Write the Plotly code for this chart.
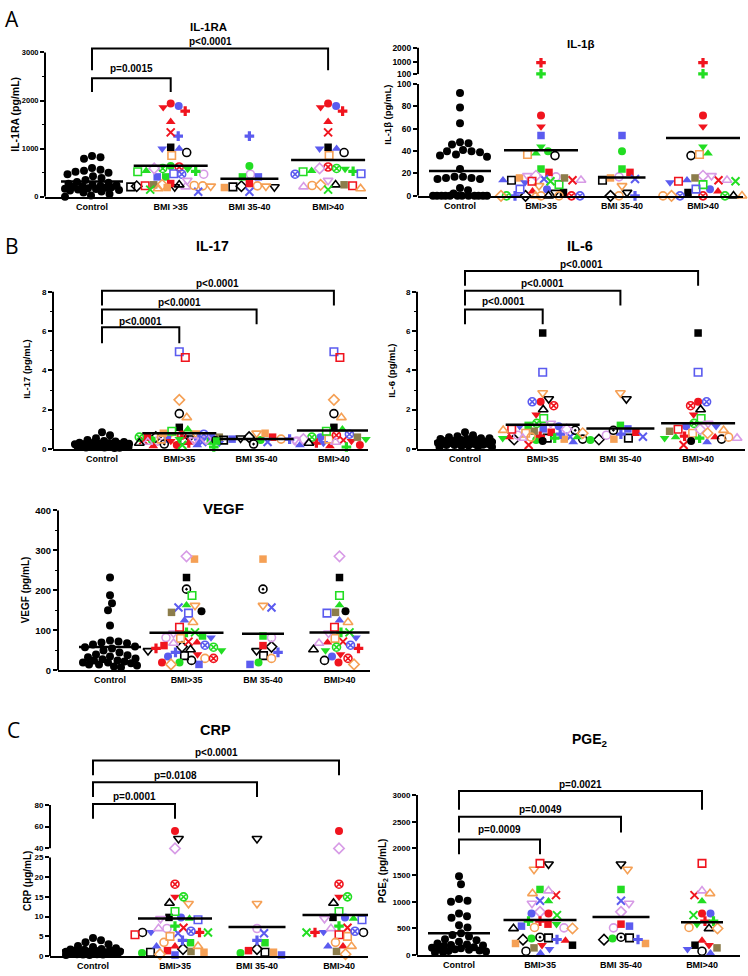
import math
import plotly.graph_objects as go

W, H = 748, 976
FONT = "Liberation Sans"

RED = "#f0141e"; BLUE = "#5b5bef"; GREEN = "#22dd22"; ORANGE = "#f5a055"
VIOLET = "#d79be6"; BLACK = "#000000"; OLIVE = "#8c7d4b"

# ---------------- patient marker styles (symbol, colour) ----------------
STYLES = {
    'ctrl': ('circle', BLACK),
    'ci_rd': ('circle', RED), 'ci_bl': ('circle', BLUE), 'ci_gr': ('circle', GREEN), 'ci_k': ('circle', BLACK),
    'td_rd': ('triangle-down', RED), 'td_bl': ('triangle-down', BLUE), 'td_gr': ('triangle-down', GREEN),
    'tu_rd': ('triangle-up', RED), 'tu_bl': ('triangle-up', BLUE), 'tu_gr': ('triangle-up', GREEN),
    'cr_rd': ('cross', RED), 'cr_gr': ('cross', GREEN), 'cr_bl': ('cross', BLUE),
    'x_rd': ('x-thin-open', RED), 'x_bl': ('x-thin-open', BLUE), 'x_gr': ('x-thin-open', GREEN),
    'sq_k': ('square', BLACK), 'sq_gr': ('square', GREEN), 'sq_rd': ('square', RED),
    'sq_bl': ('square', BLUE), 'sq_or': ('square', ORANGE), 'sq_ol': ('square', OLIVE),
    'sq_open_k': ('square-open', BLACK), 'sq_open_or': ('square-open', ORANGE), 'sq_open_gr': ('square-open', GREEN),
    'sq_open_bl': ('square-open', BLUE), 'sq_open_rd': ('square-open', RED),
    'ci_open_or': ('circle-open', ORANGE), 'ci_open_vi': ('circle-open', VIOLET), 'ci_open_k': ('circle-open', BLACK),
    'td_open_k': ('triangle-down-open', BLACK), 'td_open_or': ('triangle-down-open', ORANGE),
    'td_open_vi': ('triangle-down-open', VIOLET),
    'tu_open_vi': ('triangle-up-open', VIOLET), 'tu_open_k': ('triangle-up-open', BLACK),
    'tu_open_or': ('triangle-up-open', ORANGE),
    'di_open_k': ('diamond-open', BLACK), 'di_open_vi': ('diamond-open', VIOLET), 'di_open_or': ('diamond-open', ORANGE),
    'cx_rd': ('circle-x-open', RED), 'cx_gr': ('circle-x-open', GREEN), 'cx_bl': ('circle-x-open', BLUE),
    'half_k': ('circle-open-dot', BLACK),
}

# patients of the BMI 35-40 and BMI>40 subgroups (BMI>35 = both)
PAT_3540 = ['sq_open_k', 'ci_open_or', 'td_open_k', 'di_open_k', 'ci_open_vi', 'sq_gr', 'ci_gr', 'sq_rd',
            'x_bl', 'sq_bl', 'td_open_or', 'sq_or', 'cr_bl', 'half_k', 'td_open_vi', 'di_open_vi']
PAT_40 = ['ci_rd', 'ci_bl', 'td_rd', 'cr_rd', 'tu_rd', 'x_rd', 'sq_k', 'tu_bl', 'td_bl', 'ci_open_k',
          'sq_open_or', 'cr_gr', 'cx_rd', 'cx_gr', 'di_open_vi', 'td_gr', 'tu_gr', 'sq_open_gr', 'sq_open_bl',
          'cx_bl', 'td_open_vi', 'tu_open_vi', 'tu_open_k', 'sq_open_rd', 'di_open_or', 'sq_ol', 'x_gr',
          'tu_open_or', 'ci_k', 'ci_open_or']

# ---------------- values ----------------
CTRL_IL1RA = [850, 820, 790, 600, 560, 540, 520, 500, 470, 430, 390, 350, 310, 290, 270, 250, 240, 230, 220,
              210, 200, 190, 180, 170, 160, 150, 140, 130, 110, 90, 60, 30, 0]
IL1RA_3540 = [207, 228, 207, 220, 470, 414, 640, 276, 104, 414, 220, 193, 1262, None, None, None]
IL1RA_40 = [1940, 1890, 1860, 1780, 1560, 1340, 1030, 1000, 1000, 920, 860, 530, 620, 590, 590, 580, 540, 520,
            480, 470, 340, 210, 250, 230, 250, 250, 150, 170, None, 235]

CTRL_IL1B = [92, 79, 65, 47, 46, 48, 41, 40, 40, 39, 37, 36, 35, 24, 17, 16, 16, 17, 15, 15, 7, 5, 2,
             0, 0, 0, 0, 0, 0, 0, 0, 0, 0, 0, 0]
IL1B_3540 = [14, 0, 3, 0, 17, 24, 40, 21, 15, 54, 9, 16, 0, None, None, None]
IL1B_40 = [72, 6, 62, 920, 4, 14, 3, 14, 12, 36, 37, 130, 0, 0, 18, 44, 38, 10, 6, 0, 18, 14, 0, 13, 0, 16,
           13, 0, None, 0]

CTRL_IL17 = [0.85, 0.7, 0.55, 0.45, 0.4, 0.38, 0.35, 0.32, 0.3, 0.3, 0.28, 0.27, 0.25, 0.25, 0.24, 0.22, 0.2,
             0.2, 0.2, 0.18, 0.18, 0.16, 0.15, 0.15, 0.14, 0.12, 0.12, 0.1, 0.1, 0.08, 0.08, 0.06, 0.05]
IL17_3540 = [0.45, 0.5, 0.55, 0.6, 0.4, 0.4, 0.45, 0.6, 0.35, 0.5, 0.8, 0.8, 0.5, 0.25, None, None]
IL17_40 = [0.2, 0.6, 0.4, 0.3, 0.15, 0.45, 1.1, 0.2, 0.3, 1.8, 0.5, 0.1, 0.7, 0.6, 0.5, 0.5, 1.0, 0.9, 4.95,
           0.75, 0.45, 0.35, 0.3, 4.65, 2.5, 0.6, 0.2, 1.6, 0.45, None]

CTRL_IL6 = [0.85, 0.7, 0.65, 0.6, 0.55, 0.55, 0.5, 0.5, 0.45, 0.45, 0.4, 0.4, 0.38, 0.35, 0.35, 0.33, 0.3, 0.3,
            0.3, 0.28, 0.27, 0.25, 0.25, 0.22, 0.2, 0.2, 0.18, 0.15, 0.12, 0.1, 0.1]
IL6_3540 = [0.55, None, 2.55, 0.48, 0.7, 1.2, 0.45, 0.85, 0.62, 1.02, 2.85, 0.5, 0.75, 0.95, None, None]
IL6_40 = [2.4, 1.15, 1.75, 0.65, 0.6, 0.2, 5.9, 0.35, 1.15, 0.5, 0.8, 0.55, 2.2, 1.3, 1.0, 0.55, 0.6, 1.55, 3.9,
          2.4, 1.3, 0.55, 2.0, 1.0, 0.8, 0.9, None, 0.95, 0.4, 0.6]

CTRL_VEGF = [232, 188, 168, 150, 112, 75, 72, 70, 68, 65, 60, 58, 55, 50, 45, 40, 38, 35, 33, 30, 28, 25, 25,
             22, 20, 20, 18, 15, 15, 12, 10, 8]
VEGF_3540 = [37, 30, 49, 59, 82, 86, 20, 62, 157, 15, 162, 278, 45, 203, None, None]
VEGF_40 = [20, 35, 40, 55, 70, 72, 232, 125, 82, 25, 80, 95, 30, 58, 285, 50, 163, 187, 143, 63, 93, 68, 52,
           108, 15, 145, 95, 120, 148, None]

CTRL_CRP = [4.6, 4.0, 3.5, 3.0, 2.6, 2.3, 2.0, 1.8, 1.7, 1.6, 1.5, 1.4, 1.3, 1.2, 1.2, 1.1, 1.0, 1.0, 0.9, 0.9,
            0.8, 0.8, 0.7, 0.7, 0.6, 0.6, 0.5, 0.5, 0.4, 0.4, 0.3, 0.3]
CRP_3540 = [1.0, None, 49, 1.8, 7, 3.4, 0.8, 1.4, 5.8, 0.3, 13.3, 1.0, 4.0, None, None, None]
CRP_40 = [56, 9.8, 15, 6, 2.5, 7.2, 9.8, 2.5, 6.1, 6, 5, 7.6, 18.2, 15, 40, None, 9.5, 11.3, 9.2, 6.3, 9.5, 7,
          13.4, 5.4, 0.5, 1.2, 6, 2.5, None, 3.5]

CTRL_PGE2 = [1480, 1330, 1050, 1020, 1000, 780, 730, 700, 560, 520, 410, 380, 350, 300, 280, 250, 220, 200,
             190, 180, 170, 150, 140, 130, 120, 110, 100, 90, 80, 70, 60, 50]
PGE2_3540 = [325, None, 1706, 290, 512, 1231, 312, 581, 1019, 544, 1606, 219, 294, 337, 969, 812]
PGE2_40 = [781, 781, 187, 637, 275, 1125, 187, 35, 112, 75, None, 637, None, None, None, 581, 1012, None, None,
           None, None, 1206, 500, 1719, 500, 137, 750, 1156, None, 519]

CATS_A = ['Control', 'BMI >35', 'BMI 35-40', 'BMI>40']
CATS = ['Control', 'BMI>35', 'BMI 35-40', 'BMI>40']
CATS_V = ['Control', 'BMI>35', 'BM 35-40', 'BMI>40']

# ---------------- panel layout ----------------
PANELS = [
    dict(ctrl=CTRL_IL1RA, a=IL1RA_3540, b=IL1RA_40, cats=CATS_A, xl=45, xr=367, c0=92, dc=78.7, tf=7.5,
         segs=[dict(lo=0, ref=3000, hi=3300, pb=193, pref=47, ticks=[0, 1000, 2000, 3000],
                    minor=[500, 1500, 2500])],
         brackets=[(1, 2466, 2178, 2671, 'p=0.0015'), (3, 3082, 2630, 3226, 'p<0.0001')],
         title=('IL-1RA', 208, 21, 11.5), ytitle=('IL-1RA (pg/mL)', 15, 110, 10.5)),
    dict(ctrl=CTRL_IL1B, a=IL1B_3540, b=IL1B_40, cats=CATS, xl=418, xr=743, c0=460, dc=81, tf=8.5,
         segs=[dict(lo=0, ref=100, hi=100, pb=192, pref=79, ticks=[0, 20, 40, 60, 80, 100], minor=None),
               dict(lo=100, ref=2000, hi=2000, pb=69, pref=42, ticks=[100, 1000, 2000], minor=None)],
         brackets=[], title=('IL-1β', 580, 38, 11.5), ytitle=('IL-1β (pg/mL)', 388, 110, 9.5)),
    dict(ctrl=CTRL_IL17, a=IL17_3540, b=IL17_40, cats=CATS, xl=53, xr=368, c0=102, dc=77.3, tf=8,
         segs=[dict(lo=0, ref=8, hi=9, pb=448, pref=289, ticks=[0, 2, 4, 6, 8], minor=[1, 3, 5, 7])],
         brackets=[(1, 6.19, 5.38, 6.49, 'p<0.0001'), (2, 7.09, 6.34, 7.45, 'p<0.0001'),
                   (3, 8.05, 7.3, 8.4, 'p<0.0001')],
         title=('IL-17', 213, 243, 14), ytitle=('IL-17 (pg/mL)', 27, 367, 9.5)),
    dict(ctrl=CTRL_IL6, a=IL6_3540, b=IL6_40, cats=CATS, xl=417, xr=745, c0=465, dc=77.7, tf=8,
         segs=[dict(lo=0, ref=8, hi=10, pb=448, pref=289, ticks=[0, 2, 4, 6, 8], minor=[1, 3, 5, 7])],
         brackets=[(1, 7.09, 6.34, 7.5, 'p<0.0001'), (2, 8.05, 7.3, 8.4, 'p<0.0001'),
                   (3, 9.06, 8.3, 9.41, 'p<0.0001')],
         title=('IL-6', 580, 243, 14.5), ytitle=('IL-6 (pg/mL)', 392, 369, 9.5)),
    dict(ctrl=CTRL_VEGF, a=VEGF_3540, b=VEGF_40, cats=CATS_V, xl=58, xr=370, c0=110, dc=76.5, tf=9.5,
         segs=[dict(lo=0, ref=400, hi=400, pb=672, pref=510, ticks=[0, 100, 200, 300, 400],
                    minor=[50, 150, 250, 350])],
         brackets=[], title=('VEGF', 223, 508, 15), ytitle=('VEGF (pg/mL)', 25, 591, 10)),
    dict(ctrl=CTRL_CRP, a=CRP_3540, b=CRP_40, cats=CATS, xl=50, xr=368, c0=93, dc=82, tf=8,
         segs=[dict(lo=0, ref=25, hi=25, pb=961, pref=861, ticks=[0, 5, 10, 15, 20, 25], minor=None),
               dict(lo=40, ref=80, hi=130, pb=852, pref=808, ticks=[40, 60, 80], minor=None)],
         brackets=[(1, 80.9, 67.3, 87.3, 'p=0.0001'), (2, 100.9, 87.3, 107.3, 'p=0.0108'),
                   (3, 120.9, 107.3, 128.2, 'p<0.0001')],
         title=('CRP', 215, 732, 14.5), ytitle=('CRP (μg/mL)', 27, 885, 10)),
    dict(ctrl=CTRL_PGE2, a=PGE2_3540, b=PGE2_40, cats=CATS, xl=417, xr=740, c0=459, dc=81, tf=8,
         segs=[dict(lo=0, ref=3000, hi=3300, pb=960, pref=798, ticks=[0, 500, 1000, 1500, 2000, 2500, 3000],
                    minor=None)],
         brackets=[(1, 2167, 1889, 2352, 'p=0.0009'), (2, 2593, 2296, 2722, 'p=0.0049'),
                   (3, 3074, 2722, 3204, 'p=0.0021')],
         title=('PGE<sub>2</sub>', 590, 742, 14), ytitle=('PGE<sub>2</sub> (pg/mL)', 383, 875, 10)),
]

LETTERS = [('A', 12, 13), ('B', 12, 243), ('C', 14, 732)]

D = 8.3  # marker diameter in px for the swarm


def swarm(pys, d, wmax):
    order = sorted(range(len(pys)), key=lambda i: pys[i])
    cands = [0.0]
    step = 0.5
    k = 1
    while k * step <= wmax:
        cands += [k * step, -k * step]
        k += 1
    placed = []
    offs = [0.0] * len(pys)
    for i in order:
        y = pys[i]
        near = [(px, py) for px, py in placed if abs(py - y) < d]
        chosen, best, bestd = None, 0.0, -1.0
        for c in cands:
            md = min((math.hypot(c - px, y - py) for px, py in near), default=1e9)
            if md >= d:
                chosen = c
                break
            if md > bestd + 1e-9:
                bestd, best = md, c
        if chosen is None:
            chosen = best
        offs[i] = chosen
        placed.append((chosen, y))
    return offs


fig = go.Figure()
layout = dict(width=W, height=H, margin=dict(l=0, r=0, t=0, b=0), paper_bgcolor='white',
              plot_bgcolor='white', showlegend=False)
shapes, annotations = [], []
bold = dict(family=FONT, color='black', weight='bold')

yi = 0
for pi, P in enumerate(PANELS):
    xi = pi + 1
    xname = 'x' if xi == 1 else f'x{xi}'
    xkey = 'xaxis' if xi == 1 else f'xaxis{xi}'
    segs = P['segs']
    ynames = []
    for s in segs:
        yi += 1
        yname = 'y' if yi == 1 else f'y{yi}'
        ykey = 'yaxis' if yi == 1 else f'yaxis{yi}'
        s['k'] = (s['pb'] - s['pref']) / (s['ref'] - s['lo'])
        pt = s['pb'] - (s['hi'] - s['lo']) * s['k']
        ax = dict(domain=[1 - s['pb'] / H, 1 - pt / H], range=[s['lo'], s['hi']], anchor=xname,
                  tickmode='array', tickvals=s['ticks'], ticktext=[str(t) for t in s['ticks']],
                  ticks='outside', ticklen=4, tickwidth=1.5, tickcolor='black',
                  tickfont=dict(size=P['tf'], **bold), showline=False, showgrid=False, zeroline=False,
                  fixedrange=True)
        if s['minor']:
            ax['minor'] = dict(tickmode='array', tickvals=s['minor'], ticks='outside', ticklen=2.5,
                               tickwidth=1.2, tickcolor='black', showgrid=False)
        layout[ykey] = ax
        shapes.append(dict(type='line', xref=f'{xname} domain', x0=0, x1=0, yref=yname,
                           y0=s['lo'], y1=s['ref'], line=dict(color='black', width=2)))
        ynames.append(yname)

    dc = P['dc']
    layout[xkey] = dict(domain=[P['xl'] / W, P['xr'] / W],
                        range=[-(P['c0'] - P['xl']) / dc, (P['xr'] - P['c0']) / dc],
                        anchor=ynames[0], tickmode='array', tickvals=[0, 1, 2, 3], ticktext=P['cats'],
                        ticks='', tickfont=dict(size=9, **bold), showline=True, linewidth=2,
                        linecolor='black', showgrid=False, zeroline=False, fixedrange=True)

    def seg_of(v):
        for j in range(len(segs) - 1, -1, -1):
            if v >= segs[j]['lo'] and (j == 0 or v > segs[j - 1]['hi']):
                return j
        return 0

    def px_of(v):
        s = segs[seg_of(v)]
        return s['pb'] - (v - s['lo']) * s['k']

    sub_a = [(v, s) for v, s in zip(P['a'], PAT_3540) if v is not None]
    sub_b = [(v, s) for v, s in zip(P['b'], PAT_40) if v is not None]
    columns = [[(v, 'ctrl') for v in P['ctrl']], sub_a + sub_b, sub_a, sub_b]

    mean_traces = []
    for ci, pts in enumerate(columns):
        pys = [px_of(v) for v, _ in pts]
        offs = swarm(pys, D, 27 if ci == 0 else 40)
        for j in range(len(segs)):
            idx = [n for n, (v, _) in enumerate(pts) if seg_of(v) == j]
            if not idx:
                continue
            syms = [STYLES[pts[n][1]][0] for n in idx]
            colors = [STYLES[pts[n][1]][1] for n in idx]
            lws = [2 if 'x-thin' in sy else (1.6 if 'open' in sy else 0) for sy in syms]
            sizes = [7.5 if sy.startswith('square') else 8.5 if 'triangle' in sy else 8 for sy in syms]
            fig.add_trace(go.Scatter(
                x=[ci + offs[n] / dc for n in idx], y=[pts[n][0] for n in idx], mode='markers',
                xaxis=xname, yaxis=ynames[j], cliponaxis=False, hoverinfo='skip',
                marker=dict(symbol=syms, color=colors, size=sizes, opacity=1,
                            line=dict(width=lws, color=colors))))
        vals = [v for v, _ in pts]
        mean = sum(vals) / len(vals)
        hw = max(21, min(37, max(abs(o) for o in offs) + 4))
        mean_traces.append(go.Scatter(x=[ci - hw / dc, ci + hw / dc], y=[mean, mean], mode='lines',
                                      line=dict(color='black', width=2.5), xaxis=xname,
                                      yaxis=ynames[seg_of(mean)], hoverinfo='skip'))
    for t in mean_traces:
        fig.add_trace(t)

    top = ynames[-1]
    for (to, ytop, leg, ty, label) in P['brackets']:
        fig.add_trace(go.Scatter(x=[0, 0, to, to], y=[leg, ytop, ytop, leg], mode='lines',
                                 line=dict(color='black', width=2), xaxis=xname, yaxis=top,
                                 hoverinfo='skip'))
        annotations.append(dict(x=to / 2, y=ty, xref=xname, yref=top, text=label, showarrow=False,
                                xanchor='center', yanchor='middle', font=dict(size=10, **bold)))

    t, tx, ty, ts = P['title']
    annotations.append(dict(x=tx / W, y=1 - ty / H, xref='paper', yref='paper', text=t, showarrow=False,
                            xanchor='center', yanchor='middle', font=dict(size=ts, **bold)))
    t, tx, ty, ts = P['ytitle']
    annotations.append(dict(x=tx / W, y=1 - ty / H, xref='paper', yref='paper', text=t, showarrow=False,
                            textangle=-90, xanchor='center', yanchor='middle', font=dict(size=ts, **bold)))

for L, lx, ly in LETTERS:
    annotations.append(dict(x=lx / W, y=1 - ly / H, xref='paper', yref='paper', text=L, showarrow=False,
                            xanchor='center', yanchor='middle',
                            font=dict(family='Open Sans', size=21, color='black')))

layout['shapes'] = shapes
layout['annotations'] = annotations
fig.update_layout(**layout)
fig.write_html("out.html", config={'displayModeBar': False},
               post_script="document.body.style.margin='0';document.body.style.overflow='hidden';")
